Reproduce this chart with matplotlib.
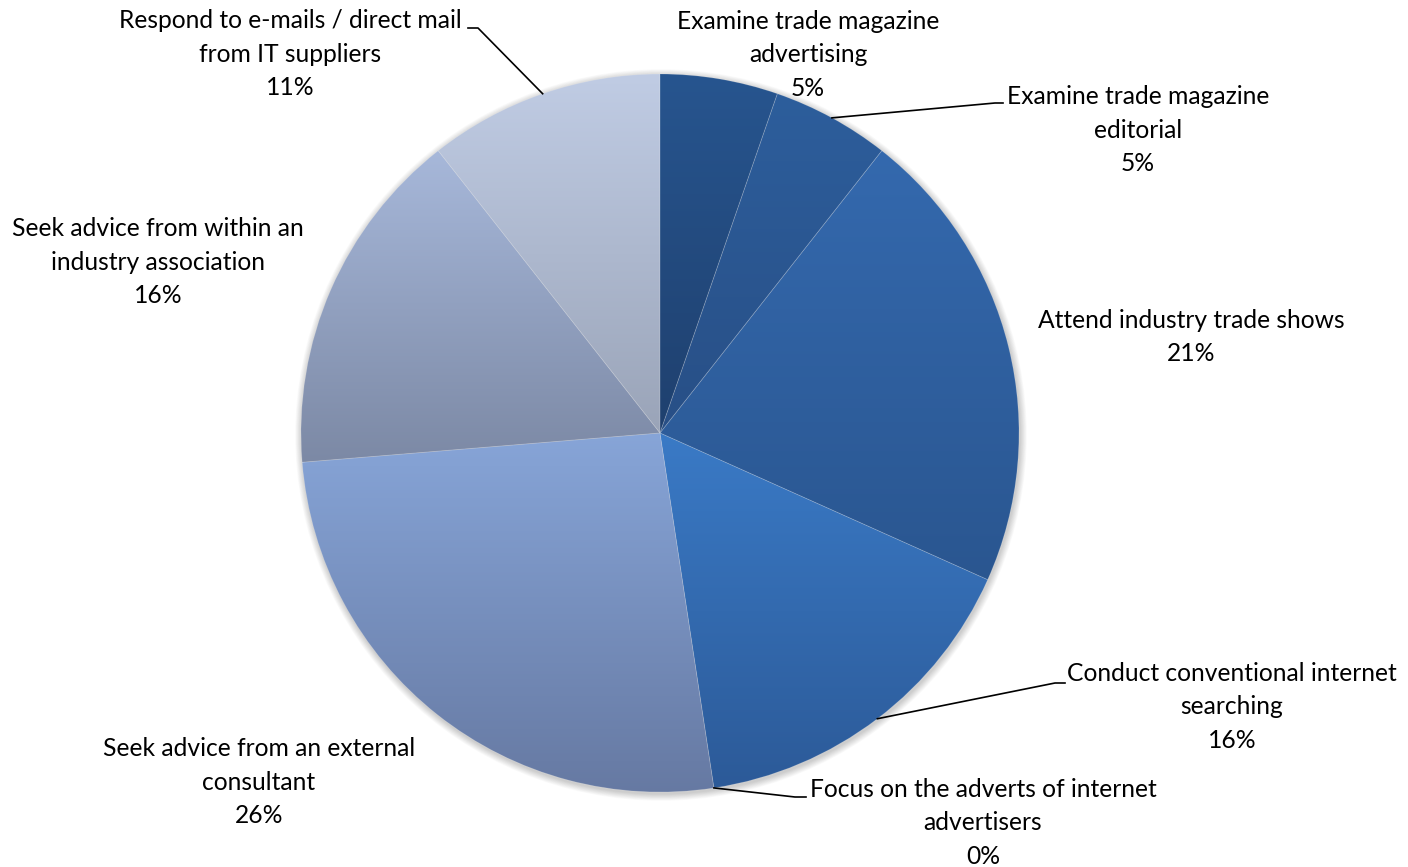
import numpy as np
import matplotlib.pyplot as plt
from matplotlib.colors import LinearSegmentedColormap

plt.rcParams['font.family'] = ['Lato', 'DejaVu Sans']

# data, clockwise from 12 o'clock
categories = ['Examine trade magazine\nadvertising',
              'Examine trade magazine\neditorial',
              'Attend industry trade shows',
              'Conduct conventional internet\nsearching',
              'Focus on the adverts of internet\nadvertisers',
              'Seek advice from an external\nconsultant',
              'Seek advice from within an\nindustry association',
              'Respond to e-mails / direct mail\nfrom IT suppliers']
shares = [5.3, 5.3, 21.1, 15.9, 0.0, 26.1, 15.7, 10.6]

# gradient colours for each slice (top -> bottom)
top_colors = ['#27558f', '#2d5e9c', '#3469ae', '#3a7ac6', '#3a7ac6',
              '#87a5d8', '#a7b8da', '#c0cce4']
bottom_colors = ['#1f406e', '#284f86', '#2a5690', '#2c5a98', '#2c5a98',
                 '#6679a2', '#7c89a5', '#9aa4b8']

# label layout (pixel coords, y from top) and leader elbows
label_pos = [(808, 55), (1138, 130), (1191, 337), (1232, 707),
             (983, 823), (259, 782), (158, 262), (290, 54)]
leaders = {1: [(995, 103), (1003, 103)],
           3: [(1055, 683), (1065, 683)],
           4: [(795, 797), (806, 797)],
           7: [(478, 28), (468, 28)]}

W, H = 1408, 867
cx, cy, R = 660, H - 433, 359

fig = plt.figure(figsize=(W / 100, H / 100), dpi=100)
ax = fig.add_axes([0, 0, 1, 1])

# soft shadow
for k in range(10):
    ax.add_patch(plt.Circle((cx + 1, cy - 2), R + 0.5 + k * 0.7, color='k',
                            alpha=0.02, lw=0, zorder=0))

wedges, _ = ax.pie(shares, startangle=90, counterclock=False, radius=R,
                   center=(cx, cy), wedgeprops=dict(linewidth=0))

grad = np.linspace(0, 1, 256).reshape(-1, 1)
for i, w in enumerate(wedges):
    w.set_zorder(2)
    if shares[i] <= 0:
        continue
    v = w.get_path().vertices
    x0, x1 = v[:, 0].min(), v[:, 0].max()
    y0, y1 = v[:, 1].min(), v[:, 1].max()
    cmap = LinearSegmentedColormap.from_list('g%d' % i, [bottom_colors[i], top_colors[i]])
    im = ax.imshow(grad, extent=(x0, x1, y0, y1), origin='lower', cmap=cmap,
                   aspect='auto', zorder=1, interpolation='bilinear')
    im.set_clip_path(w)
    w.set_facecolor('none')
    w.set_edgecolor((1, 1, 1, 0.15))
    w.set_linewidth(0.6)

total = sum(shares)
cum = 0
for i, (cat, val) in enumerate(zip(categories, shares)):
    mid = 90 - (cum + val / 2) / total * 360
    cum += val
    lx, ly = label_pos[i]
    ax.text(lx, H - ly, '%s\n%.0f%%' % (cat, val / total * 100), ha='center',
            va='center', fontsize=17.7, linespacing=1.54, color='black')
    if i in leaders:
        ax_, ay_ = cx + R * np.cos(np.radians(mid)), cy + R * np.sin(np.radians(mid))
        xs = [ax_] + [p[0] for p in leaders[i]]
        ys = [ay_] + [H - p[1] for p in leaders[i]]
        ax.plot(xs, ys, color='black', lw=1.2, zorder=3)

ax.set_xlim(0, W)
ax.set_ylim(0, H)
ax.set_aspect('equal')
ax.axis('off')

plt.savefig('out.png', dpi=100)
